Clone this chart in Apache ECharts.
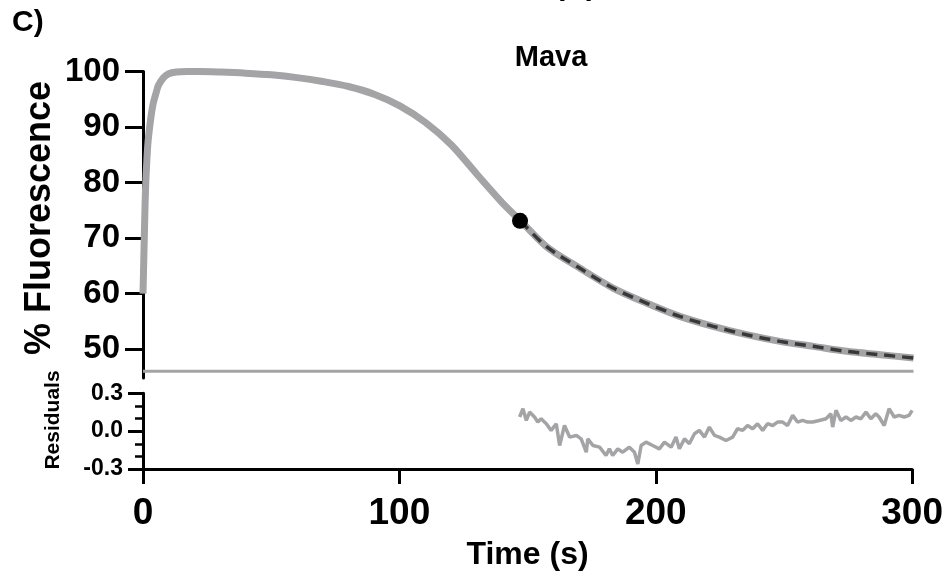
<!DOCTYPE html>
<html>
<head>
<meta charset="utf-8">
<script src="https://cdn.jsdelivr.net/npm/echarts@6/dist/echarts.min.js"></script>
<style>html,body{margin:0;padding:0;background:#fff}#c{width:946px;height:582px}</style>
</head>
<body>
<div id="c"></div>
<script>
// ---- data ----
const traceTime = [0, 0.3, 0.7, 1, 1.5, 2, 3, 4, 5, 6, 8, 10, 13, 17, 22, 30, 40, 50, 60, 70, 80, 90, 100, 110, 120, 130, 140, 147, 157, 170, 183, 196, 209, 222, 235, 248, 261, 274, 287, 300];
const traceFluor = [60, 66, 74, 79, 84, 87.5, 91.5, 94.3, 96, 97.5, 98.9, 99.6, 99.9, 100, 100, 99.9, 99.7, 99.4, 98.9, 98.2, 97.3, 95.9, 93.8, 90.8, 86.8, 81.5, 76.3, 73.1, 68.5, 64.6, 61.0, 58.3, 55.9, 54.1, 52.6, 51.4, 50.5, 49.6, 49.0, 48.4];
const fitTime = [147, 157, 170, 183, 196, 209, 222, 235, 248, 261, 274, 287, 300];
const fitFluor = [73.1, 68.5, 64.6, 61.0, 58.3, 55.9, 54.1, 52.6, 51.4, 50.5, 49.6, 49.0, 48.4];
const baselineTime = [0, 300];
const baselineFluor = [46, 46];
const markerPoint = [146.8, 73.1];
const residTime = [146.9,148.2,149.5,150.8,152.7,154.0,155.3,157.3,159.2,161.2,162.5,164.4,166.4,169.0,170.9,172.9,173.5,175.5,178.1,180.6,181.9,183.2,185.2,187.1,189.7,191.7,193.0,194.3,196.2,198.8,201.4,203.4,206.0,207.9,209.2,211.2,213.1,215.1,217.0,219.0,220.9,222.9,224.8,227.4,230.0,231.9,233.9,235.8,237.8,239.7,241.7,243.6,245.6,247.5,249.5,251.4,253.4,255.3,257.3,259.2,261.2,263.8,266.4,268.3,269.0,270.3,272.2,274.2,276.1,278.1,280.0,282.0,283.9,285.8,287.1,289.1,291.0,293.0,294.9,296.9,298.8,300];
const residValue = [0.112,0.178,0.085,0.151,0.112,0.072,0.098,0.059,0.006,0.059,-0.114,0.045,-0.047,-0.034,-0.061,-0.167,-0.061,-0.114,-0.127,-0.193,-0.140,-0.193,-0.140,-0.167,-0.127,-0.167,-0.260,-0.114,-0.087,-0.114,-0.140,-0.087,-0.127,-0.047,-0.140,-0.061,-0.100,-0.021,0.006,-0.047,0.032,-0.034,-0.047,-0.074,-0.047,0.019,0.006,0.045,0.019,0.059,0.006,0.059,0.045,0.072,0.072,0.045,0.125,0.072,0.085,0.072,0.072,0.085,0.098,0.138,0.032,0.165,0.085,0.112,0.085,0.112,0.098,0.151,0.098,0.138,0.112,0.045,0.178,0.112,0.125,0.112,0.125,0.165];
const mainTicks = [50, 60, 70, 80, 90, 100];
const timeTicks = [0, 100, 200, 300];

const zip = (a, b) => a.map((v, i) => [v, b[i]]);
const FONT = 'Liberation Sans, Arial, Helvetica, sans-serif';
const GRAY = '#a4a4a7';

const chart = echarts.init(document.getElementById('c'), null, {renderer: 'canvas'});
chart.setOption({
  animation: false,
  backgroundColor: '#fff',
  grid: [
    {left: 143, top: 71.5, width: 770.5, height: 306.5},
    {left: 143, top: 393.3, width: 770.5, height: 75.7}
  ],
  xAxis: [
    {gridIndex: 0, type: 'value', min: 0, max: 300, show: false},
    {gridIndex: 1, type: 'value', min: 0, max: 300, interval: 100,
      axisLine: {show: true, onZero: false, lineStyle: {color: '#000', width: 3}},
      axisTick: {show: true, length: 15, lineStyle: {color: '#000', width: 3}},
      axisLabel: {margin: 26, color: '#000', fontFamily: FONT, fontWeight: 'bold', fontSize: 37},
      splitLine: {show: false},
      name: 'Time (s)', nameLocation: 'middle', nameGap: 70,
      nameTextStyle: {color: '#000', fontFamily: FONT, fontWeight: 'bold', fontSize: 32}
    }
  ],
  yAxis: [
    {gridIndex: 0, type: 'value', min: 44.8, max: 100,
      axisLine: {show: true, lineStyle: {color: '#000', width: 3}},
      axisTick: {show: true, length: 18, customValues: mainTicks, lineStyle: {color: '#000', width: 3}},
      axisLabel: {margin: 23, customValues: mainTicks, color: '#000', fontFamily: FONT, fontWeight: 'bold', fontSize: 33},
      splitLine: {show: false}
    },
    {gridIndex: 1, type: 'value', min: -0.3, max: 0.3, interval: 0.3,
      axisLine: {show: true, lineStyle: {color: '#000', width: 3}},
      axisTick: {show: true, length: 15, lineStyle: {color: '#000', width: 3}},
      minorTick: {show: true, splitNumber: 3, length: 8, lineStyle: {color: '#000', width: 2.5}},
      axisLabel: {margin: 20, color: '#000', fontFamily: FONT, fontWeight: 'bold', fontSize: 23,
        formatter: v => v.toFixed(1)},
      splitLine: {show: false}
    }
  ],
  graphic: [
    {type: 'text', left: 12, top: 8, style: {text: 'C)', font: 'bold 30px ' + FONT, fill: '#000'}},
    {type: 'text', x: 575.5, y: -13.5, style: {text: '(B)', font: 'bold 30px ' + FONT, fill: '#000', align: 'center', verticalAlign: 'middle'}},
    {type: 'text', x: 551, y: 58, style: {text: 'Mava', font: 'bold 29px ' + FONT, fill: '#000', align: 'center', verticalAlign: 'middle'}},
    {type: 'text', x: 40, y: 218, rotation: Math.PI / 2, style: {text: '% Fluorescence', font: 'bold 36px ' + FONT, fill: '#000', align: 'center', verticalAlign: 'middle'}},
    {type: 'text', x: 53, y: 420, rotation: Math.PI / 2, style: {text: 'Residuals', font: 'bold 21px ' + FONT, fill: '#000', align: 'center', verticalAlign: 'middle'}}
  ],
  series: [
    {type: 'line', xAxisIndex: 0, yAxisIndex: 0, data: zip(baselineTime, baselineFluor), showSymbol: false,
      lineStyle: {color: GRAY, width: 3}, z: 2},
    {type: 'line', xAxisIndex: 0, yAxisIndex: 0, data: zip(traceTime, traceFluor), showSymbol: false,
      smooth: 0.3, lineStyle: {color: GRAY, width: 7}, z: 3},
    {type: 'line', xAxisIndex: 0, yAxisIndex: 0, data: zip(fitTime, fitFluor), showSymbol: false,
      smooth: 0.3, lineStyle: {color: '#383838', width: 3.5, type: [11, 7]}, z: 4},
    {type: 'scatter', xAxisIndex: 0, yAxisIndex: 0, data: [markerPoint], symbolSize: 16,
      itemStyle: {color: '#000', opacity: 1}, z: 5},
    {type: 'line', xAxisIndex: 1, yAxisIndex: 1, data: zip(residTime, residValue), showSymbol: false,
      lineStyle: {color: GRAY, width: 3.5}, z: 3}
  ]
});
</script>
</body>
</html>
